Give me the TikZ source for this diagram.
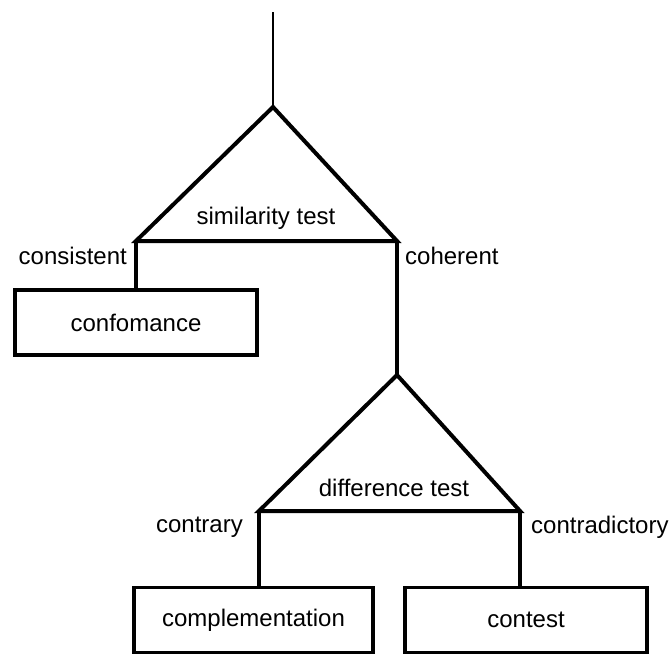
\documentclass[tikz,border=0pt]{standalone}
\usepackage{fontspec}
\setmainfont{Liberation Sans}
\begin{document}
\begin{tikzpicture}[x=1pt,y=-1pt,
  line/.style={line width=4pt},
  thin line/.style={line width=2.5pt},
  box/.style={draw,line width=3.6pt,minimum width=#1,minimum height=65pt,inner sep=0pt,font=\fontsize{24}{26}\selectfont},
  lbl/.style={inner sep=0pt,font=\fontsize{24}{26}\selectfont}]
\useasboundingbox (0,0) rectangle (671,656);
% coordinates
\coordinate (top) at (273,12);
\coordinate (apexA) at (273,107);
\coordinate (leftA) at (136,241);
\coordinate (rightA) at (397,241);
\coordinate (apexB) at (397,375);
\coordinate (leftB) at (259,511);
\coordinate (rightB) at (520,511);
% boxes
\node[box=242pt] (conf) at (136,322.5) {confomance};
\node[box=239pt] (compl) at (253.5,620) {complementation};
\node[box=242pt] (contest) at (526,620) {contest};
% labels
\node[lbl] (sim) at (266,218) {similarity test};
\node[lbl,anchor=east] (consistent) at (127,256) {consistent};
\node[lbl,anchor=west] (coherent) at (405,256) {coherent};
\node[lbl] (diff) at (394,488) {difference test};
\node[lbl,anchor=east] (contrary) at (243,527) {contrary};
\node[lbl,anchor=west] (contradictory) at (531,527) {contradictory};
% lines
\draw[thin line] (top) -- (apexA);
\draw[line,line join=miter] (apexA) -- (leftA) -- (rightA) -- cycle;
\draw[line] (leftA) -- (leftA |- conf.north);
\draw[line] (rightA) -- (apexB);
\draw[line,line join=miter] (apexB) -- (leftB) -- (rightB) -- cycle;
\draw[line] (leftB) -- (leftB |- compl.north);
\draw[line] (rightB) -- (rightB |- contest.north);
\end{tikzpicture}
\end{document}
